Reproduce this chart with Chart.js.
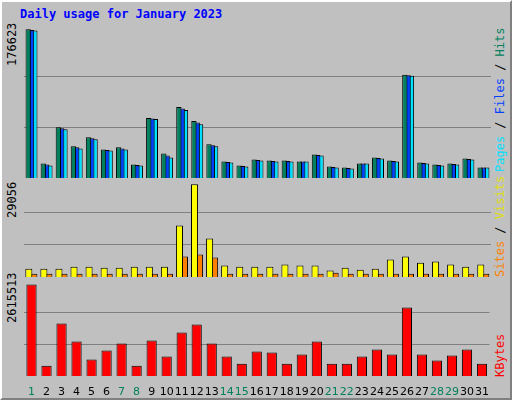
<!DOCTYPE html>
<html>
<head>
<meta charset="utf-8">
<script src="https://cdn.jsdelivr.net/npm/chart.js@4/dist/chart.umd.min.js"></script>
<style>
  body { margin: 0; background: #fff; }
  #frame { position: absolute; left: 0; top: 0; width: 508px; height: 396px; background: #c0c0c0;
           border: 2px solid; border-color: #fff #808080 #808080 #fff; }
  .box { position: absolute; }
  .vlab { position: absolute; transform-origin: 0 0; transform: rotate(-90deg); white-space: nowrap;
          font: 12px "DejaVu Sans Mono", monospace; }
  #title { position: absolute; left: 20px; top: 7px; color: #0000ff; font: bold 12px "DejaVu Sans Mono", monospace; }
</style>
</head>
<body>
<div id="frame"></div>
<div id="title">Daily usage for January 2023</div>

<div class="box" style="left:20px;top:25px;width:471px;height:153px;"><canvas id="c1"></canvas></div>
<div class="box" style="left:20px;top:180px;width:471px;height:97px;"><canvas id="c2"></canvas></div>
<div class="box" style="left:20px;top:280px;width:471px;height:116px;"><canvas id="c3"></canvas></div>

<div class="vlab" style="left:5px;top:66px;">176623</div>
<div class="vlab" style="left:5px;top:218px;">29056</div>
<div class="vlab" style="left:5px;top:323px;">2615513</div>

<div class="vlab" style="left:493px;top:172px;"><span style="color:#00e0ff">Pages</span> / <span style="color:#0040ff">Files</span> / <span style="color:#00805c">Hits</span></div>
<div class="vlab" style="left:493px;top:277px;"><span style="color:#ff8000">Sites</span> / <span style="color:#e0e000">Visits</span></div>
<div class="vlab" style="left:493px;top:377px;"><span style="color:#ff0000">KBytes</span></div>

<script>
// ── Data ──
const days = ["1","2","3","4","5","6","7","8","9","10","11","12","13","14","15","16",
              "17","18","19","20","21","22","23","24","25","26","27","28","29","30","31"];
const weekend = ["1","7","8","14","15","21","22","28","29"];

const hits  = [176623,17250,60400,37600,48400,34000,36400,16050,71200,29200,84300,67600,40000,19650,14850,22000,
               20850,20850,19650,28000,13650,12450,17250,24450,20850,122700,18450,16050,17250,23250,12450];
const files = [176000,16000,59200,36400,47200,33400,35200,15450,70600,26800,82500,65800,38800,19050,14250,21400,
               20250,20250,19650,27400,13050,11850,17250,23850,20250,122100,17850,15450,16650,22650,12450];
const pages = [175400,14850,58000,35200,46000,32800,33900,14850,70000,24450,80700,64000,37600,18450,13650,20850,
               19650,19650,19650,26800,12450,11250,17250,23250,19650,121500,17250,14850,16050,22000,12450];

const visits = [2620,2620,2620,3250,3250,2930,2930,3250,3250,3250,16150,29056,12060,3570,3250,3250,
                3250,3880,3570,3570,2000,2930,2300,2620,5450,6400,4500,4820,3880,3250,3880];
const sites  = [1050,1050,1050,1050,1050,1050,1050,1050,1050,1050,6400,7020,6080,1050,1050,1050,
                1050,1050,1050,1050,1360,1050,1050,1050,1050,1050,1050,1050,1050,1050,1050];

const kbytes = [2615513,296000,1500000,983000,468000,726000,926000,296000,1012000,554000,1242000,1470000,926000,554000,353000,697000,
                669000,353000,611000,983000,353000,353000,554000,755000,611000,1958000,611000,440000,583000,755000,353000];

const MAX_TOP = 181800, MAX_MID = 30400, MAX_BOT = 2741000;

// ── Helpers ──
function yScale(max) {
    return {
        min: 0, max: max,
        border: { display: false },
        grid: { color: "#808080", drawTicks: false, lineWidth: 1 },
        ticks: { display: false },
        afterBuildTicks: s => { s.ticks = [{ value: max / 3 }, { value: 2 * max / 3 }]; },
        afterFit: s => { s.width = 0; },
    };
}

function bar(data, color, cat, pct) {
    return { data, backgroundColor: color, borderColor: "#000", borderWidth: 1,
             categoryPercentage: cat, barPercentage: pct };
}

const base = {
    responsive: true,
    maintainAspectRatio: false,
    animation: false,
    layout: { padding: { left: 4, right: 0, top: 0, bottom: 0 } },
    plugins: { legend: { display: false }, tooltip: { enabled: false } },
};

new Chart(document.getElementById("c1"), {
    type: "bar",
    data: { labels: days, datasets: [
        bar(hits, "#00805c", 0.66, 1.6),
        bar(files, "#0040ff", 0.66, 1.6),
        bar(pages, "#00e0ff", 0.66, 1.6),
    ]},
    options: { ...base, scales: { x: { display: false }, y: yScale(MAX_TOP) } },
});

new Chart(document.getElementById("c2"), {
    type: "bar",
    data: { labels: days, datasets: [
        bar(visits, "#ffff00", 0.72, 1.3),
        bar(sites, "#ff8000", 0.72, 1.15),
    ]},
    options: { ...base, scales: { x: { display: false }, y: yScale(MAX_MID) } },
});

new Chart(document.getElementById("c3"), {
    type: "bar",
    data: { labels: days, datasets: [ bar(kbytes, "#ff0000", 0.68, 1.0) ] },
    options: { ...base, scales: {
        x: {
            grid: { display: false },
            border: { display: false },
            ticks: {
                autoSkip: false, maxRotation: 0, padding: 2,
                font: { family: "DejaVu Sans", size: 11 },
                color: ctx => weekend.includes(days[ctx.index]) ? "#00805c" : "#000",
            },
            afterFit: s => { s.height = 20; },
        },
        y: yScale(MAX_BOT),
    }},
});
</script>
</body>
</html>
